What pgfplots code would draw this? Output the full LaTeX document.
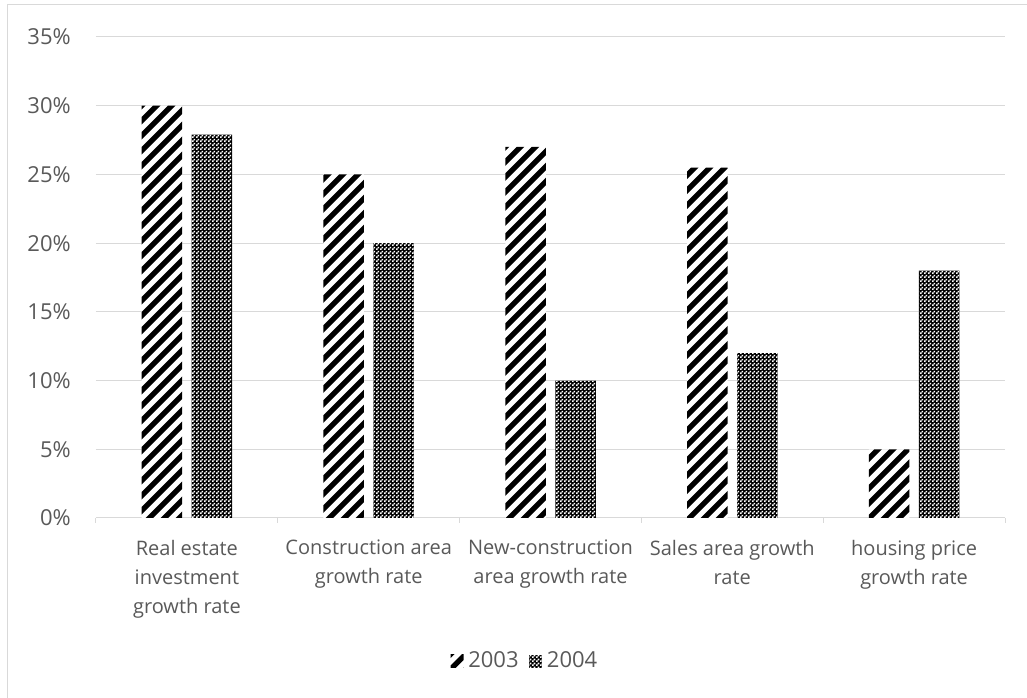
\documentclass[border=0pt]{standalone}
\usepackage{pgfplots}
\pgfplotsset{compat=1.18}
\usepackage{fontspec}
\setmainfont{Open Sans}
\usetikzlibrary{patterns}
\definecolor{txt}{HTML}{595959}
\definecolor{grd}{HTML}{D9D9D9}

\pgfdeclarepatternformonly{checker}{\pgfqpoint{0pt}{0pt}}{\pgfqpoint{3pt}{3pt}}{\pgfqpoint{3pt}{3pt}}{%
  \pgfpathrectangle{\pgfqpoint{0pt}{0pt}}{\pgfqpoint{1.5pt}{1.5pt}}%
  \pgfpathrectangle{\pgfqpoint{1.5pt}{1.5pt}}{\pgfqpoint{1.5pt}{1.5pt}}%
  \pgfusepath{fill}%
}
\tikzset{
  stripesNE/.style={
    path picture={%
      \pgfsetlinewidth{3.98pt}%
      \pgfsetstrokecolor{black}%
      \foreach \k in {0,...,100}{%
        \pgfpathmoveto{\pgfpoint{\k*11.25pt-420pt}{-10pt}}%
        \pgfpathlineto{\pgfpoint{\k*11.25pt-20pt}{390pt}}%
        \pgfusepath{stroke}%
      }%
    }
  }
}

\begin{document}
\begin{tikzpicture}
\useasboundingbox (-72pt,-135pt) rectangle (698.25pt,388.5pt);
\draw[grd, line width=0.75pt] (-66pt,-140pt) -- (-66pt,384.75pt) -- (710pt,384.75pt);
\begin{axis}[
  scale only axis, width=681.75pt, height=360.75pt,
  xmin=-0.5, xmax=4.5, ymin=0, ymax=35,
  ybar, bar width=30.375pt,
  axis x line*=bottom, axis y line*=left,
  x axis line style={grd, line width=0.75pt, -},
  y axis line style={draw=none},
  xtick={-0.5,0.5,1.5,2.5,3.5,4.5}, xticklabels={},
  x tick style={grd, line width=0.75pt},
  tick align=outside, major tick length=3.75pt,
  extra x ticks={0,1,2,3,4},
  extra x tick labels={{Real estate\\investment\\growth rate}, {Construction area\\growth rate}, {New-construction\\area growth rate}, {Sales area growth\\rate}, {housing price\\growth rate}},
  extra x tick style={major tick length=0pt, tick style={draw=none}},
  xticklabel style={anchor=north, inner sep=0pt, yshift=-16.25pt, align=center, font=\fontsize{15}{22}\selectfont, text=txt},
  ytick={0,5,...,35},
  yticklabels={0\%,5\%,10\%,15\%,20\%,25\%,30\%,35\%},
  y tick style={draw=none},
  yticklabel style={anchor=east, inner sep=0pt, xshift=-15pt, font=\fontsize{16.5}{22}\selectfont, text=txt},
  ymajorgrids, grid style={grd, line width=0.75pt},
  legend style={at={(axis description cs:0.4708,-0.2973)}, anchor=center, draw=none, fill=none,
    legend columns=2, inner sep=0pt, font=\fontsize{16.5}{22}\selectfont, text=txt,
    nodes={inner sep=0pt},
    /tikz/every odd column/.append style={column sep=3.5pt},
    /tikz/every even column/.append style={column sep=8pt}},
  legend cell align=left,
  legend image code/.code={\path[#1] (0pt,-4.875pt) rectangle (9.75pt,4.875pt);},
]
\addplot[draw=none, fill=white, stripesNE, bar shift=-18.75pt]
  coordinates {(0,30) (1,25) (2,27) (3,25.5) (4,5)};
\addplot[draw=none, fill=black, postaction={pattern=checker, pattern color=white}, bar shift=18.75pt]
  coordinates {(0,27.9) (1,20) (2,10) (3,12) (4,18)};
\legend{2003,2004}
\end{axis}
\end{tikzpicture}
\end{document}
